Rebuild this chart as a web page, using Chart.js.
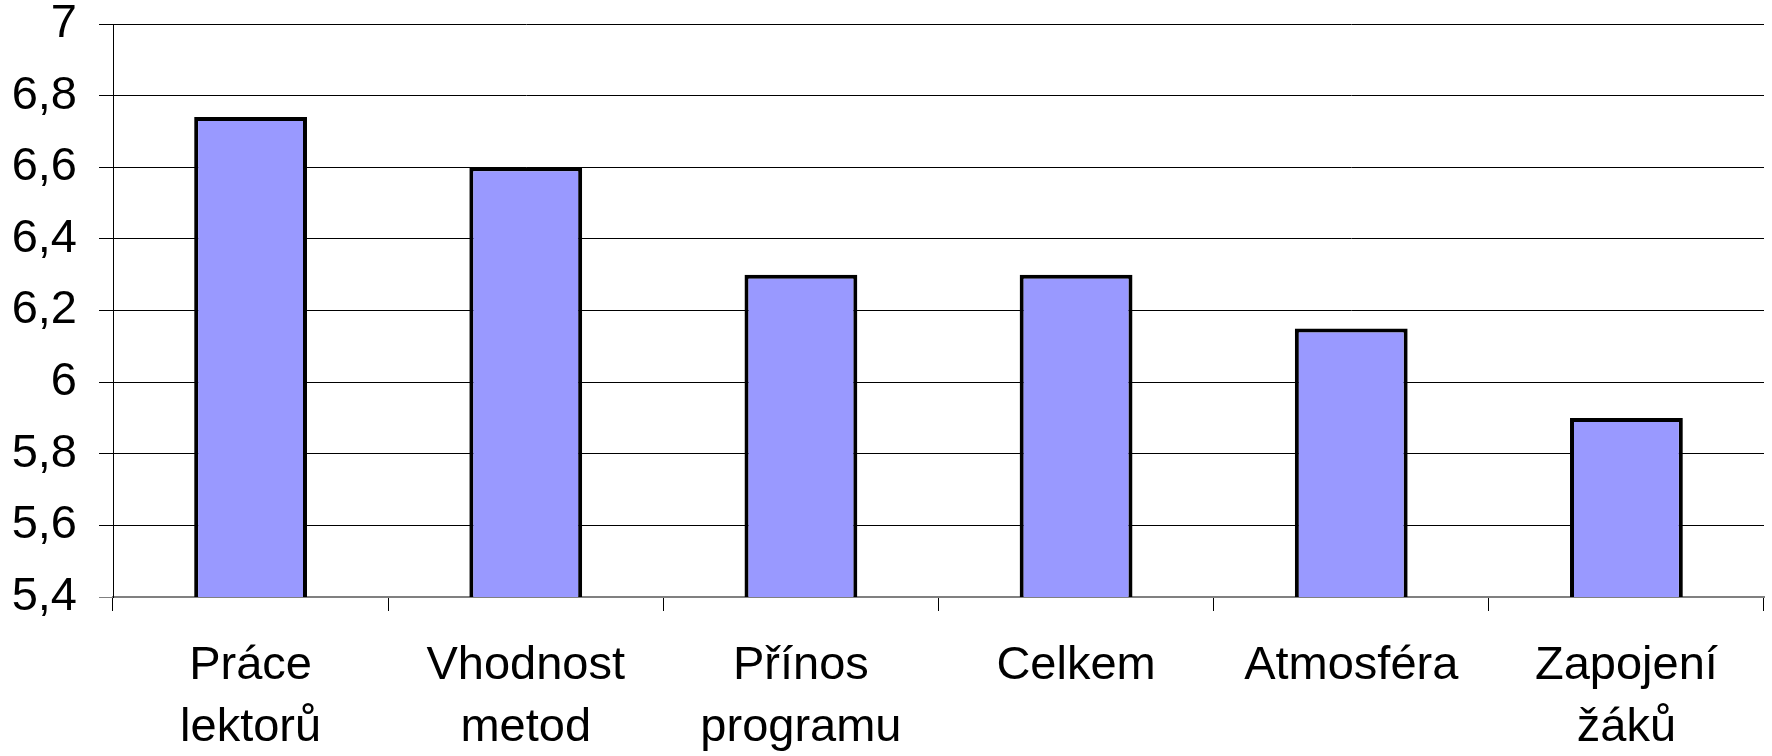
<!DOCTYPE html>
<html>
<head>
<meta charset="utf-8">
<script src="https://cdn.jsdelivr.net/npm/chart.js@4"></script>
<style>
  html, body { margin: 0; padding: 0; background: #fff; }
  #wrap { width: 1772px; height: 756px; }
</style>
</head>
<body>
<div id="wrap"><canvas id="myChart" width="1772" height="756"></canvas></div>
<script>
const categories = [
  ['Práce', 'lektorů'],
  ['Vhodnost', 'metod'],
  ['Přínos', 'programu'],
  ['Celkem'],
  ['Atmosféra'],
  ['Zapojení', 'žáků']
];
const scores = [6.74, 6.6, 6.3, 6.3, 6.15, 5.9];
const yMin = 5.4;
const yMax = 7;
const yStep = 0.2;

function czNumber(v) {
  let r = Math.round(v * 10) / 10;
  return String(r).replace('.', ',');
}

let ctx = document.getElementById('myChart').getContext('2d');
let chart = new Chart(ctx, {
  type: 'bar',
  data: {
    labels: categories,
    datasets: [{
      data: scores,
      backgroundColor: '#9999ff',
      borderColor: '#000',
      borderWidth: 4,
      borderSkipped: false,
      barPercentage: 0.41,
      categoryPercentage: 1
    }]
  },
  options: {
    responsive: false,
    animation: false,
    layout: { padding: { top: 24, right: 8, left: 0, bottom: 0 } },
    plugins: { legend: { display: false }, tooltip: { enabled: false } },
    scales: {
      x: {
        offset: true,
        grid: {
          offset: true,
          drawOnChartArea: false,
          color: '#000',
          tickLength: 14
        },
        border: { color: '#808080', width: 2 },
        ticks: {
          color: '#000',
          font: { family: 'Liberation Sans', size: 47, lineHeight: 1.32 },
          padding: 24,
          maxRotation: 0,
          autoSkip: false
        },
        afterFit: axis => { axis.height = 159; }
      },
      y: {
        min: yMin,
        max: yMax,
        grid: {
          color: c => (c.tick && c.tick.value === yMin) ? '#808080' : '#000',
          tickLength: 14
        },
        border: { color: '#000', width: 1 },
        ticks: {
          stepSize: yStep,
          color: '#000',
          font: { family: 'Liberation Sans', size: 47 },
          padding: 22,
          callback: v => czNumber(v)
        },
        afterFit: axis => {
          axis.width = 113;
          axis.paddingTop = 0;
          axis.paddingBottom = 0;
        }
      }
    }
  }
});
</script>
</body>
</html>
